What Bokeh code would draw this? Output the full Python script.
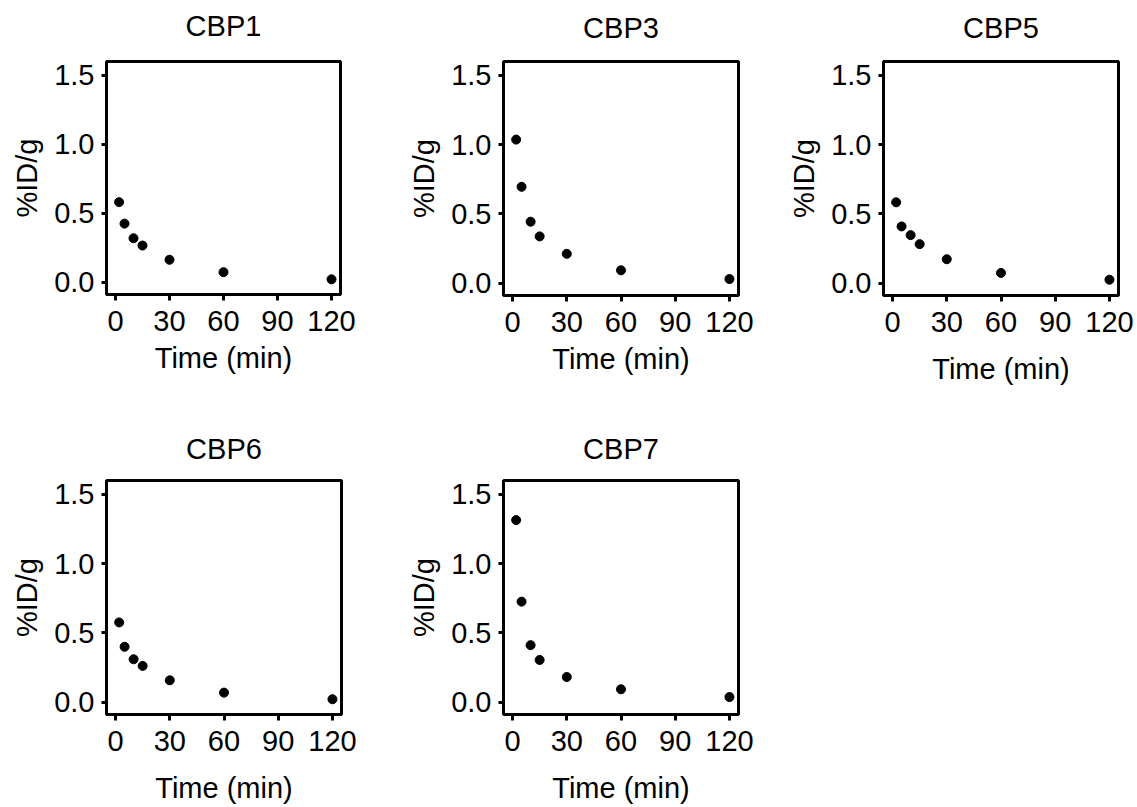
from bokeh.plotting import figure
from bokeh.layouts import column, row
from bokeh.models import FixedTicker, Range1d
from bokeh.embed import file_html
from bokeh.resources import INLINE

# ---- data ----
time_min = [2, 5, 10, 15, 30, 60, 120]
cbp1 = [0.58, 0.424, 0.318, 0.265, 0.162, 0.072, 0.02]
cbp3 = [1.036, 0.695, 0.443, 0.337, 0.211, 0.092, 0.029]
cbp5 = [0.583, 0.409, 0.346, 0.281, 0.172, 0.073, 0.024]
cbp6 = [0.575, 0.399, 0.309, 0.261, 0.157, 0.068, 0.02]
cbp7 = [1.314, 0.725, 0.411, 0.304, 0.181, 0.092, 0.036]
panel_names = ["CBP1", "CBP3", "CBP5", "CBP6", "CBP7"]
x_ticks = [0, 30, 60, 90, 120]
x_tick_labels = ["0", "30", "60", "90", "120"]
y_ticks = [0, 0.5, 1.0, 1.5]
y_tick_labels = ["0.0", "0.5", "1.0", "1.5"]
x_label = "Time (min)"
y_label = "%ID/g"

FONT = "Liberation Sans"
FS = "29px"


def make_panel(name, yv, left, top, fw, fh, right, bottom, title_standoff, xlab_standoff):
    p = figure(frame_width=fw, frame_height=fh,
               min_border_left=left, min_border_right=right,
               min_border_top=top, min_border_bottom=bottom,
               x_range=Range1d(-5, 125), y_range=Range1d(-0.09, 1.6),
               output_backend="svg", toolbar_location=None, title=name)
    p.title.align = "center"
    p.title.vertical_align = "bottom"
    p.title.text_font = FONT
    p.title.text_font_size = FS
    p.title.text_font_style = "normal"
    p.title.text_color = "black"
    p.title.standoff = title_standoff

    p.outline_line_color = "black"
    p.outline_line_width = 3
    p.outline_line_alpha = 1.0
    p.grid.visible = False
    p.background_fill_color = "white"
    p.border_fill_color = "white"

    for ax in (p.xaxis[0], p.yaxis[0]):
        ax.axis_line_color = None
        ax.major_tick_line_color = "black"
        ax.major_tick_line_width = 3
        ax.major_tick_in = 0
        ax.minor_tick_line_color = None
        ax.major_label_text_font = FONT
        ax.major_label_text_font_size = FS
        ax.major_label_text_color = "black"
        ax.axis_label_text_font = FONT
        ax.axis_label_text_font_size = FS
        ax.axis_label_text_font_style = "normal"
        ax.axis_label_text_color = "black"

    p.xaxis.ticker = FixedTicker(ticks=x_ticks)
    p.xaxis.major_label_overrides = dict(zip(x_ticks, x_tick_labels))
    p.xaxis.major_tick_out = 6
    p.xaxis.major_label_standoff = 10
    p.xaxis.axis_label = x_label
    p.xaxis.axis_label_standoff = xlab_standoff

    p.yaxis.ticker = FixedTicker(ticks=y_ticks)
    p.yaxis.major_label_overrides = {float(k): v for k, v in zip(y_ticks, y_tick_labels)}
    p.yaxis.major_tick_out = 5
    p.yaxis.major_label_standoff = 7
    p.yaxis.axis_label = y_label
    p.yaxis.axis_label_standoff = 8

    p.scatter(time_min, yv, size=9, color="black", marker="circle")
    return p


SHIFT = 14
p1 = make_panel(panel_names[0], cbp1, 106, 61 + SHIFT, 234, 233, 50, 106, 39, 8)
p2 = make_panel(panel_names[1], cbp3, 113, 57 + SHIFT, 235, 234, 32, 109, 35, 8)
p3 = make_panel(panel_names[2], cbp5, 113, 57 + SHIFT, 235, 234, 19, 109, 35, 18)
p4 = make_panel(panel_names[3], cbp6, 106, 80, 235, 234, 49, 93, 31, 18)
p5 = make_panel(panel_names[4], cbp7, 113, 80, 235, 234, 32, 93, 31, 18)

layout = column(row(p1, p2, p3), row(p4, p5), margin=(-SHIFT, 0, 0, 0))
open("out.html", "w").write(file_html(layout, INLINE))
